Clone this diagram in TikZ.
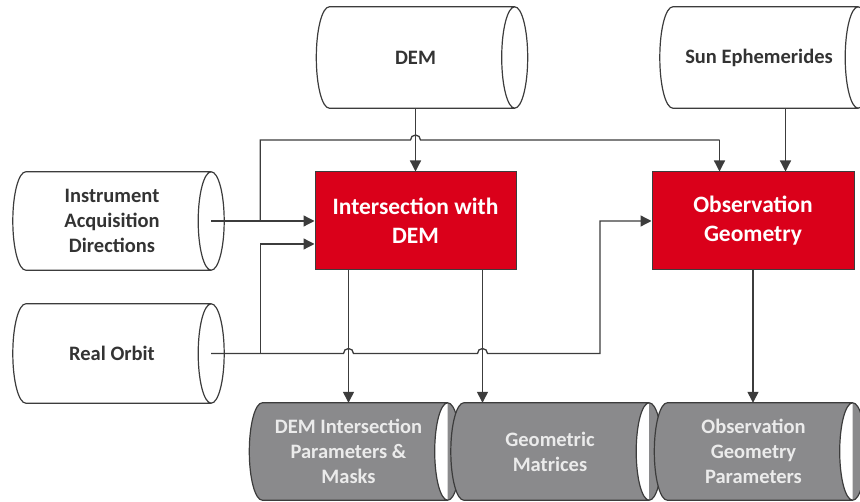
\documentclass[tikz,border=0pt]{standalone}
\usepackage{fontspec}
\setmainfont{Carlito}
\usetikzlibrary{arrows.meta,calc,backgrounds}

\definecolor{boxred}{HTML}{DA001A}
\definecolor{lineg}{HTML}{3C3C3C}
\definecolor{storegray}{HTML}{8A8A8C}
\definecolor{txtdark}{HTML}{333333}
\definecolor{txtlight}{HTML}{EBEBEB}

\tikzset{
  store/.style={minimum width=198pt, inner sep=0pt, align=center,
    font=\bfseries\fontsize{20.5}{25}\selectfont},
  inputstore/.style={store, text=txtdark},
  outputstore/.style={store, text=txtlight},
  proc/.style={draw=lineg, line width=1pt, fill=boxred, text=white,
    inner sep=0pt, align=center, font=\bfseries\fontsize{23.5}{29}\selectfont},
  link/.style={draw=lineg, line width=1.3pt},
  arr/.style={link, -{Triangle[width=11pt,length=11pt]}},
}

% horizontal data-store cylinder behind a node: bulging left end, open cap on the right
\newcommand\storeoutline[2]{%
  \path[draw=lineg, line width=1.2pt, fill=#2]
    let \p1=(#1.north west), \p2=(#1.south east), \n1={0.5*(\y1-\y2)} in
    (\x1+13pt,\y1) -- (\x2,\y1)
    arc[start angle=90, end angle=-90, x radius=13pt, y radius=\n1]
    -- (\x1+13pt,\y2)
    arc[start angle=270, end angle=90, x radius=13pt, y radius=\n1] -- cycle
    (\x2,\y1) arc[start angle=90, end angle=270, x radius=13pt, y radius=\n1];
}

\begin{document}
\begin{tikzpicture}[x=1pt, y=1pt]
\useasboundingbox (0,0) rectangle (860,-502);
\clip (0,0) rectangle (860,-502);

% inputs
\node[inputstore, minimum height=98pt]  (instr) at (112,-221)   {Instrument\\Acquisition\\Directions};
\node[inputstore, minimum height=99pt]  (orbit) at (112,-353.5) {Real Orbit};
\node[inputstore, minimum height=101pt] (dem)   at (415.5,-57.5) {DEM};
\node[inputstore, minimum height=101pt] (sun)   at (759,-57.5)   {Sun Ephemerides};

% outputs
\node[outputstore, minimum height=97pt] (demip) at (348.5,-451.5) {DEM Intersection\\Parameters \&\\Masks};
\node[outputstore, minimum height=97pt] (gm)    at (550,-451.5)   {Geometric\\Matrices};
\node[outputstore, minimum height=97pt] (ogp)   at (753.5,-451.5) {Observation\\Geometry\\Parameters};

% processing steps
\node[proc, minimum width=201pt, minimum height=98pt] (inter) at (415.5,-221) {Intersection with\\DEM};
\node[proc, minimum width=202pt, minimum height=98pt] (obs)   at (753,-221)   {Observation\\Geometry};

\begin{pgfonlayer}{background}
  \storeoutline{instr}{white}
  \storeoutline{orbit}{white}
  \storeoutline{dem}{white}
  \storeoutline{sun}{white}
  \storeoutline{demip}{storegray}
  \storeoutline{gm}{storegray}
  \storeoutline{ogp}{storegray}
\end{pgfonlayer}

% routing points
\coordinate (j1)     at ($(instr.east)+(49,0)$);
\coordinate (j2)     at ($(orbit.east)+(49,0)$);
\coordinate (bus)    at (260,-140);
\coordinate (riser)  at (600,-300);
\coordinate (obsIn1) at ($(obs.north west)+(68,0)$);
\coordinate (obsIn2) at ($(obs.north west)+(134,0)$);
\coordinate (outA)   at ($(inter.south west)+(34,0)$);
\coordinate (outB)   at ($(inter.south west)+(168,0)$);

% connectors
\draw[arr] (dem.south) -- (inter.north);
\draw[arr] (obsIn2 |- sun.south) -- (obsIn2);
\draw[arr] (instr.east) -- (inter.west);
\draw[link] (j1) -- (j1 |- bus)
  -- ($(dem.south |- bus)+(-5,0)$) arc[start angle=180, end angle=0, radius=5pt]
  -- (obsIn1 |- bus);
\draw[arr] (obsIn1 |- bus) -- (obsIn1);
\draw[arr] (j2) |- ($(inter.west)+(0,-23)$);
\draw[arr] (orbit.east)
  -- ($(outA |- orbit.east)+(-5,0)$) arc[start angle=180, end angle=0, radius=5pt]
  -- ($(outB |- orbit.east)+(-5,0)$) arc[start angle=180, end angle=0, radius=5pt]
  -- (riser |- orbit.east) |- (obs.west);
\draw[arr] (outA) -- (outA |- demip.north);
\draw[arr] (outB) -- (outB |- gm.north);
\draw[arr] (obs.south) -- (obs.south |- ogp.north);
\end{tikzpicture}
\end{document}
